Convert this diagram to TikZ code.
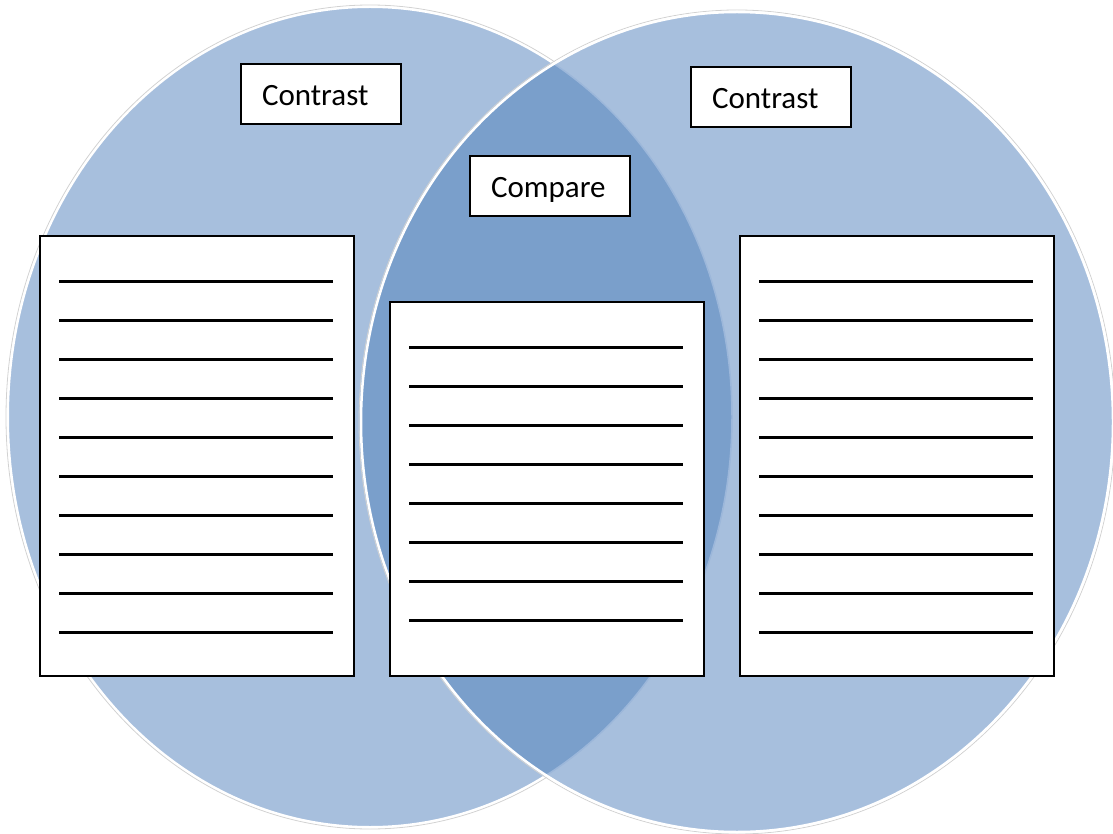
\documentclass[tikz,border=0pt]{standalone}
\usepackage{fontspec}
\setmainfont{Carlito}
\usetikzlibrary{calc}
\definecolor{lightblue}{HTML}{A7BFDD}
\definecolor{darkblue}{HTML}{7A9FCB}
\definecolor{edgeblue}{HTML}{9CB7DA}
\tikzset{
  label box/.style={draw=black, line width=1.6pt, fill=white, minimum width=160pt, minimum height=60pt, inner sep=0pt, text height=23pt, text depth=0pt, font=\fontsize{31}{36}\selectfont},
  sheet/.style={draw=black, line width=1.6pt, fill=white, minimum width=314pt, inner sep=0pt},
  rule line/.style={line width=3pt, black},
}
\newcommand{\lbltext}[1]{\makebox[118pt][l]{#1}}
\begin{document}
\begin{tikzpicture}[x=1pt,y=-1pt]
\useasboundingbox (0,0) rectangle (1113,834);
% circles
\coordinate (cl) at (370,417);
\coordinate (cr) at (737,422);
\draw[gray!35, line width=0.8pt] (cl) ellipse [x radius=364, y radius=412];
\fill[lightblue] (cl) ellipse [x radius=362, y radius=410];
\draw[white, line width=2pt] (cl) ellipse [x radius=362, y radius=410];
\draw[gray!35, line width=0.8pt] (cr) ellipse [x radius=378, y radius=412];
\fill[lightblue] (cr) ellipse [x radius=376, y radius=410];
\begin{scope}
  \clip (cl) ellipse [x radius=362, y radius=410];
  \fill[darkblue] (cr) ellipse [x radius=376, y radius=410];
\end{scope}
\begin{scope}
  \clip (cr) ellipse [x radius=376, y radius=410];
  \draw[edgeblue, line width=1.5pt] (cl) ellipse [x radius=362, y radius=410];
\end{scope}
\draw[white, line width=2.5pt] (cr) ellipse [x radius=376, y radius=410];
% label boxes
\node[label box] (c1) at (321,94) {\lbltext{Contrast}};
\node[label box] (c2) at (771,97) {\lbltext{Contrast}};
\node[label box] (cm) at (550,186) {\lbltext{Compare}};
% sheets
\node[sheet, minimum height=440pt] (L) at (197,456) {};
\node[sheet, minimum height=374pt] (M) at (547,489) {};
\node[sheet, minimum height=440pt] (R) at (897,456) {};
\foreach \i in {0,...,9} {
  \draw[rule line] ($(L.north west)+(20,46+39*\i)$) -- ($(L.north east)+(-22,46+39*\i)$);
  \draw[rule line] ($(R.north west)+(20,46+39*\i)$) -- ($(R.north east)+(-22,46+39*\i)$);
}
\foreach \i in {0,...,7} {
  \draw[rule line] ($(M.north west)+(20,46+39*\i)$) -- ($(M.north east)+(-22,46+39*\i)$);
}
\end{tikzpicture}
\end{document}
